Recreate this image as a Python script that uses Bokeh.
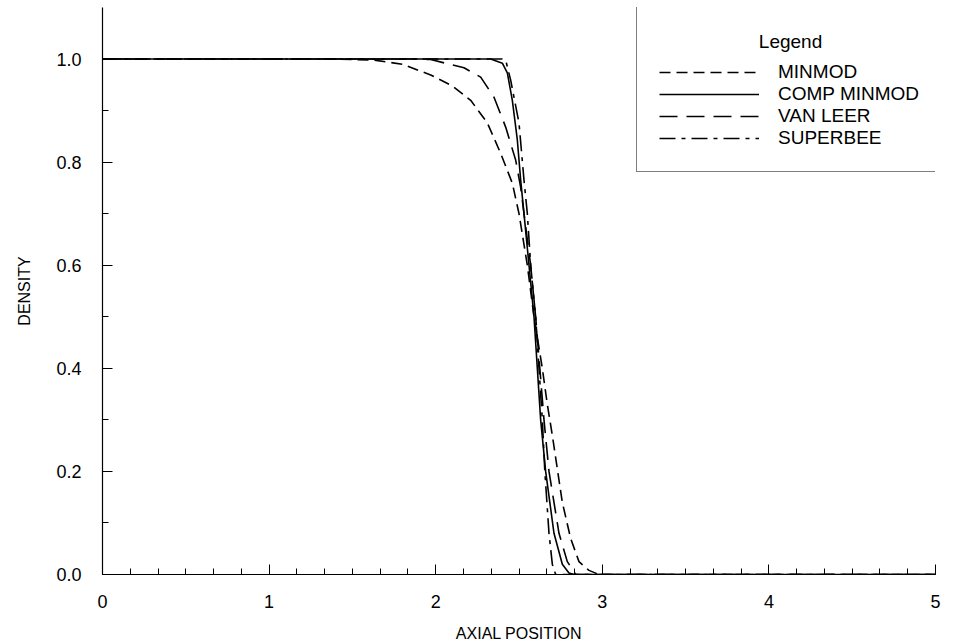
from bokeh.plotting import figure
from bokeh.models import Range1d, FixedTicker, Legend, LegendItem, PrintfTickFormatter, Label
from bokeh.embed import file_html
from bokeh.resources import INLINE

# ---- data ----
minmod_x = [0.0, 1.40, 1.63, 1.80, 1.97, 2.10, 2.21, 2.31, 2.39, 2.46, 2.50, 2.55, 2.59, 2.64, 2.67, 2.70, 2.76, 2.81, 2.86, 2.92, 2.98, 5.0]
minmod_y = [1.0, 1.0, 0.998, 0.99, 0.969, 0.948, 0.920, 0.876, 0.817, 0.759, 0.70, 0.60, 0.50, 0.40, 0.33, 0.27, 0.14, 0.07, 0.025, 0.008, 0.0, 0.0]

comp_x = [0.0, 2.33, 2.40, 2.43, 2.46, 2.49, 2.51, 2.53, 2.56, 2.59, 2.61, 2.63, 2.66, 2.71, 2.76, 2.80, 2.83, 5.0]
comp_y = [1.0, 1.0, 0.992, 0.973, 0.920, 0.843, 0.765, 0.70, 0.60, 0.50, 0.40, 0.30, 0.20, 0.08, 0.02, 0.003, 0.0, 0.0]

vanleer_x = [0.0, 1.90, 1.97, 2.17, 2.27, 2.35, 2.42, 2.48, 2.51, 2.53, 2.57, 2.60, 2.625, 2.65, 2.68, 2.74, 2.79, 2.84, 5.0]
vanleer_y = [1.0, 1.0, 0.999, 0.983, 0.965, 0.926, 0.868, 0.804, 0.751, 0.70, 0.60, 0.50, 0.40, 0.30, 0.20, 0.08, 0.025, 0.0, 0.0]

superbee_x = [0.0, 2.40, 2.42, 2.45, 2.50, 2.53, 2.55, 2.57, 2.60, 2.62, 2.64, 2.655, 2.68, 2.70, 2.72, 5.0]
superbee_y = [1.0, 1.0, 0.998, 0.959, 0.876, 0.765, 0.70, 0.60, 0.50, 0.40, 0.30, 0.20, 0.08, 0.02, 0.0, 0.0]

series_labels = ["MINMOD", "COMP MINMOD", "VAN LEER", "SUPERBEE"]
legend_title = "Legend"
x_ticks = [0, 1, 2, 3, 4, 5]
y_ticks = [0.0, 0.2, 0.4, 0.6, 0.8, 1.0]

FONT = "Liberation Sans"

p = figure(width=954, height=644, output_backend="svg", toolbar_location=None,
           x_range=Range1d(0, 5), y_range=Range1d(0, 1.1),
           min_border_left=102, min_border_right=19, min_border_top=7, min_border_bottom=70)
p.outline_line_color = None
p.grid.visible = False
p.background_fill_color = "white"
p.border_fill_color = "white"

xminor = [i / 6 for i in range(0, 31)]
yminor = [i / 10 for i in range(0, 11)]
p.xaxis.ticker = FixedTicker(ticks=x_ticks, minor_ticks=xminor)
p.yaxis.ticker = FixedTicker(ticks=y_ticks, minor_ticks=yminor)
p.yaxis.formatter = PrintfTickFormatter(format="%.1f")

for ax in (p.xaxis[0], p.yaxis[0]):
    ax.axis_line_color = "black"
    ax.axis_line_width = 1.2
    ax.major_tick_line_color = "black"
    ax.minor_tick_line_color = "black"
    ax.major_tick_in = 10
    ax.major_tick_out = 0
    ax.minor_tick_in = 6
    ax.minor_tick_out = 0
    ax.major_label_text_font = FONT
    ax.major_label_text_font_size = "18px"
    ax.major_label_text_color = "black"
    ax.axis_label_text_font = FONT
    ax.axis_label_text_font_size = "16px"
    ax.axis_label_text_font_style = "normal"
    ax.axis_label_text_color = "black"

p.xaxis.axis_label = "AXIAL POSITION"
p.yaxis.axis_label = "DENSITY"
p.xaxis.major_label_standoff = 20
p.yaxis.major_label_standoff = 21
p.xaxis.axis_label_standoff = 14
p.yaxis.axis_label_standoff = 20

lw = 1.6
r1 = p.line(minmod_x, minmod_y, line_color="black", line_width=lw, line_dash="11 6")
r2 = p.line(comp_x, comp_y, line_color="black", line_width=lw)
r3 = p.line(vanleer_x, vanleer_y, line_color="black", line_width=lw, line_dash="18 9")
r4 = p.line(superbee_x, superbee_y, line_color="black", line_width=lw, line_dash="16 6 4 6")

legend = Legend(items=[LegendItem(label=series_labels[i], renderers=[r]) for i, r in enumerate([r1, r2, r3, r4])],
                location=(534, 402), orientation="vertical")
legend.title = " "
legend.title_text_font = FONT
legend.title_text_font_size = "19px"
legend.title_standoff = 10
legend.label_text_font = FONT
legend.label_text_font_size = "19px"
legend.label_text_color = "black"
legend.glyph_width = 100
legend.glyph_height = 20
legend.label_height = 20
legend.label_standoff = 19
legend.spacing = 0
legend.padding = 22
legend.margin = 0
legend.border_line_color = "black"
legend.border_line_width = 1.5
legend.background_fill_alpha = 0.0
p.add_layout(legend, "center")

title_label = Label(x=4.13, y=1.035, text=legend_title, text_align="center", text_baseline="middle",
                    text_font=FONT, text_font_size="19px", text_color="black")
p.add_layout(title_label, "center")

open("out.html", "w").write(file_html(p, INLINE))
